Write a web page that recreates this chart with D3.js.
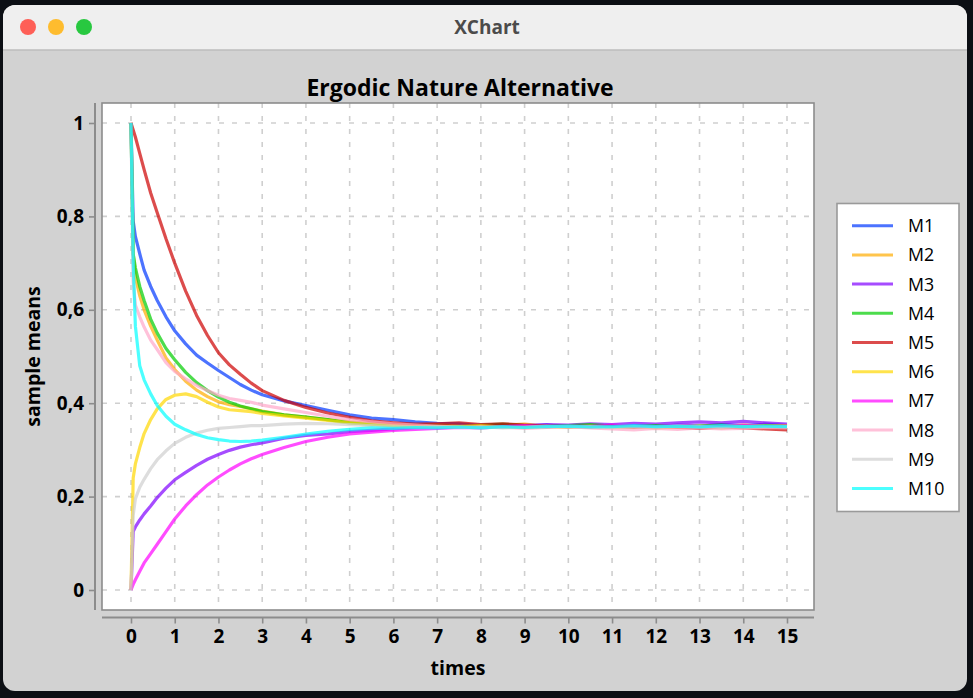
<!DOCTYPE html>
<html>
<head>
<meta charset="utf-8">
<title>XChart</title>
<script src="https://d3js.org/d3.v7.min.js"></script>
<style>
  html, body { margin: 0; padding: 0; background: #0c0f14; }
  svg { display: block; }
  text { font-family: "Open Sans", sans-serif; }
</style>
</head>
<body>
<svg id="chart" width="973" height="698"></svg>
<script>
// sample times (x) shared by every series
const times = [0, 0.05, 0.1, 0.2, 0.3, 0.45, 0.6, 0.8, 1, 1.25, 1.5, 1.75, 2, 2.25, 2.5, 2.75, 3, 3.5, 4, 4.5,
  5, 5.5, 6, 6.5, 7, 7.5, 8, 8.5, 9, 9.5, 10, 10.5, 11, 11.5, 12, 12.5, 13, 13.5, 14, 14.5, 15];

// sample means
const m1 = [1, 0.79, 0.757, 0.72, 0.685, 0.65, 0.62, 0.585, 0.555, 0.527, 0.503, 0.486, 0.47, 0.455, 0.44, 0.428, 0.418, 0.405, 0.395, 0.385,
  0.375, 0.368, 0.365, 0.36, 0.357, 0.356, 0.352, 0.354, 0.351, 0.353, 0.35, 0.352, 0.349, 0.352, 0.35, 0.353, 0.351, 0.354, 0.352, 0.355, 0.352];
const m2 = [1, 0.72, 0.67, 0.63, 0.6, 0.565, 0.535, 0.497, 0.472, 0.447, 0.428, 0.414, 0.403, 0.397, 0.393, 0.388, 0.383, 0.375, 0.37, 0.365,
  0.36, 0.357, 0.355, 0.352, 0.354, 0.351, 0.35, 0.353, 0.355, 0.351, 0.349, 0.352, 0.35, 0.348, 0.35, 0.352, 0.349, 0.347, 0.35, 0.353, 0.35];
const m3 = [0, 0.125, 0.135, 0.15, 0.163, 0.18, 0.198, 0.218, 0.236, 0.252, 0.267, 0.28, 0.29, 0.299, 0.306, 0.311, 0.315, 0.325, 0.331, 0.334,
  0.339, 0.342, 0.345, 0.348, 0.35, 0.348, 0.351, 0.353, 0.352, 0.354, 0.353, 0.356, 0.354, 0.357, 0.355, 0.358, 0.36, 0.358, 0.361, 0.358, 0.355];
const m4 = [1, 0.72, 0.69, 0.65, 0.62, 0.58, 0.55, 0.517, 0.493, 0.466, 0.444, 0.427, 0.413, 0.402, 0.394, 0.388, 0.382, 0.375, 0.37, 0.365,
  0.358, 0.355, 0.352, 0.35, 0.352, 0.349, 0.353, 0.355, 0.352, 0.35, 0.352, 0.354, 0.351, 0.35, 0.352, 0.349, 0.351, 0.353, 0.35, 0.352, 0.351];
const m5 = [1, 0.985, 0.97, 0.935, 0.9, 0.85, 0.808, 0.752, 0.7, 0.64, 0.588, 0.545, 0.508, 0.482, 0.462, 0.443, 0.427, 0.406, 0.391, 0.379,
  0.37, 0.362, 0.358, 0.355, 0.356, 0.358, 0.354, 0.356, 0.353, 0.351, 0.35, 0.349, 0.351, 0.348, 0.35, 0.348, 0.346, 0.349, 0.347, 0.345, 0.343];
const m6 = [0, 0.24, 0.27, 0.305, 0.335, 0.365, 0.388, 0.408, 0.417, 0.42, 0.414, 0.402, 0.392, 0.386, 0.384, 0.382, 0.378, 0.373, 0.368, 0.363,
  0.358, 0.355, 0.352, 0.35, 0.349, 0.35, 0.352, 0.349, 0.348, 0.35, 0.349, 0.351, 0.348, 0.35, 0.347, 0.349, 0.351, 0.35, 0.353, 0.351, 0.352];
const m7 = [0, 0.012, 0.022, 0.04, 0.058, 0.078, 0.098, 0.125, 0.152, 0.18, 0.204, 0.225, 0.242, 0.257, 0.27, 0.281, 0.29, 0.305, 0.318, 0.327,
  0.334, 0.338, 0.342, 0.344, 0.346, 0.348, 0.347, 0.35, 0.352, 0.35, 0.351, 0.35, 0.353, 0.351, 0.35, 0.352, 0.35, 0.351, 0.353, 0.35, 0.351];
const m8 = [1, 0.66, 0.61, 0.585, 0.563, 0.535, 0.515, 0.487, 0.468, 0.452, 0.438, 0.427, 0.417, 0.41, 0.406, 0.402, 0.396, 0.388, 0.38, 0.372,
  0.365, 0.36, 0.356, 0.353, 0.351, 0.349, 0.347, 0.349, 0.346, 0.348, 0.35, 0.347, 0.345, 0.343, 0.346, 0.344, 0.347, 0.345, 0.346, 0.348, 0.347];
const m9 = [0, 0.16, 0.195, 0.22, 0.237, 0.26, 0.279, 0.298, 0.314, 0.327, 0.336, 0.342, 0.346, 0.348, 0.35, 0.352, 0.352, 0.355, 0.357, 0.356,
  0.354, 0.352, 0.35, 0.349, 0.35, 0.348, 0.35, 0.347, 0.349, 0.351, 0.349, 0.35, 0.348, 0.35, 0.349, 0.351, 0.35, 0.348, 0.35, 0.349, 0.35];
const m10 = [1, 0.7, 0.565, 0.48, 0.45, 0.42, 0.395, 0.372, 0.355, 0.343, 0.333, 0.326, 0.322, 0.319, 0.318, 0.319, 0.321, 0.327, 0.334, 0.34,
  0.344, 0.347, 0.346, 0.348, 0.347, 0.349, 0.347, 0.35, 0.348, 0.35, 0.351, 0.349, 0.35, 0.352, 0.35, 0.351, 0.349, 0.352, 0.35, 0.351, 0.35];

const seriesNames = ["M1", "M2", "M3", "M4", "M5", "M6", "M7", "M8", "M9", "M10"];
const seriesValues = [m1, m2, m3, m4, m5, m6, m7, m8, m9, m10];
// XChart default palette (alpha 180)
const seriesColors = ["rgba(0,55,255,0.7)", "rgba(255,172,0,0.7)", "rgba(128,0,255,0.7)", "rgba(0,205,0,0.7)",
  "rgba(205,0,0,0.7)", "rgba(255,215,0,0.7)", "rgba(255,0,255,0.7)", "rgba(255,166,201,0.7)",
  "rgba(207,207,207,0.7)", "rgba(0,255,255,0.7)"];

const xTicks = [0, 1, 2, 3, 4, 5, 6, 7, 8, 9, 10, 11, 12, 13, 14, 15];
const yTicks = [0, 0.2, 0.4, 0.6, 0.8, 1];

const svg = d3.select("#chart");

// window frame
svg.append("rect").attr("x", 3).attr("y", 5).attr("width", 964).attr("height", 686)
  .attr("rx", 12).attr("fill", "#d2d2d2");
svg.append("path")
  .attr("d", "M3,50 V17 A12,12 0 0 1 15,5 H955 A12,12 0 0 1 967,17 V50 Z")
  .attr("fill", "#efefef");
svg.append("line").attr("x1", 3).attr("x2", 967).attr("y1", 50).attr("y2", 50)
  .attr("stroke", "#bcbcbc").attr("stroke-width", 1.5);
[["#fe5f57", 28], ["#febc2e", 56], ["#28c840", 84]].forEach(([c, cx]) => {
  svg.append("circle").attr("cx", cx).attr("cy", 27).attr("r", 8).attr("fill", c);
});
svg.append("text").attr("x", 487).attr("y", 34).attr("text-anchor", "middle")
  .attr("font-size", 19).attr("font-weight", 700).attr("fill", "#4b4b4b").text("XChart");

// plot area
const plot = { left: 102, right: 814, top: 103, bottom: 610 };

const x = d3.scaleLinear().domain([0, 15]).range([131, 787]);
const y = d3.scaleLinear().domain([0, 1]).range([590, 123]);

const fmt = d3.formatLocale({ decimal: ",", thousands: ".", grouping: [3], currency: ["", ""] }).format("~g");

svg.append("rect")
  .attr("x", plot.left).attr("y", plot.top)
  .attr("width", plot.right - plot.left).attr("height", plot.bottom - plot.top)
  .attr("fill", "#ffffff");

// grid
const grid = svg.append("g").attr("stroke", "#cfcfcf").attr("stroke-width", 1.6).attr("stroke-dasharray", "5,8");
grid.selectAll(".gx").data(xTicks).enter().append("line")
  .attr("x1", d => x(d)).attr("x2", d => x(d))
  .attr("y1", plot.top).attr("y2", plot.bottom);
grid.selectAll(".gy").data(yTicks).enter().append("line")
  .attr("x1", plot.left).attr("x2", plot.right)
  .attr("y1", d => y(d)).attr("y2", d => y(d));

// series
const line = d3.line().x((d, i) => x(times[i])).y(d => y(d));
svg.append("g").selectAll("path").data(seriesValues).enter().append("path")
  .attr("d", line)
  .attr("fill", "none")
  .attr("stroke", (d, i) => seriesColors[i])
  .attr("stroke-width", 3.2)
  .attr("stroke-linejoin", "round");

svg.append("rect")
  .attr("x", plot.left).attr("y", plot.top)
  .attr("width", plot.right - plot.left).attr("height", plot.bottom - plot.top)
  .attr("fill", "none").attr("stroke", "#8c8c8c").attr("stroke-width", 1.6);

// axes
const xAxis = svg.append("g").attr("transform", "translate(0,617.5)")
  .call(d3.axisBottom(x).tickValues(xTicks).tickSize(6).tickPadding(6).tickFormat(d3.format("d")));
xAxis.select(".domain").attr("d", `M${plot.left},0H${plot.right}`);

const yAxis = svg.append("g").attr("transform", "translate(95,0)")
  .call(d3.axisLeft(y).tickValues(yTicks).tickSize(6).tickPadding(5).tickFormat(fmt));
yAxis.select(".domain").attr("d", `M0,${plot.top}V${plot.bottom}`);

[xAxis, yAxis].forEach(a => {
  a.select(".domain").attr("stroke", "#8c8c8c").attr("stroke-width", 2);
  a.selectAll(".tick line").attr("stroke", "#8c8c8c").attr("stroke-width", 1.6);
  a.selectAll(".tick text").attr("fill", "#000").attr("font-size", 19).attr("font-weight", 700)
    .attr("font-family", "'Open Sans', sans-serif");
});

// titles
svg.append("text").attr("x", 460).attr("y", 96).attr("text-anchor", "middle")
  .attr("font-size", 23).attr("font-weight", 700).attr("fill", "#000").text("Ergodic Nature Alternative");
svg.append("text").attr("x", 458).attr("y", 675).attr("text-anchor", "middle")
  .attr("font-size", 19.5).attr("font-weight", 700).attr("fill", "#000").text("times");
svg.append("text").attr("transform", "translate(40,356.5) rotate(-90)").attr("text-anchor", "middle")
  .attr("font-size", 19.5).attr("font-weight", 700).attr("fill", "#000").text("sample means");

// legend
const legend = svg.append("g");
legend.append("rect").attr("x", 837).attr("y", 203.5).attr("width", 122).attr("height", 308)
  .attr("fill", "#fff").attr("stroke", "#9a9a9a").attr("stroke-width", 1.6);
const item = legend.selectAll(".item").data(seriesNames).enter().append("g")
  .attr("transform", (d, i) => `translate(0,${225.7 + i * 29.2})`);
item.append("line").attr("x1", 852).attr("x2", 893).attr("y1", 0).attr("y2", 0)
  .attr("stroke", (d, i) => seriesColors[i]).attr("stroke-width", 3);
item.append("text").attr("x", 908).attr("y", 6.5).attr("font-size", 17.8).attr("fill", "#000").text(d => d);
</script>
</body>
</html>
